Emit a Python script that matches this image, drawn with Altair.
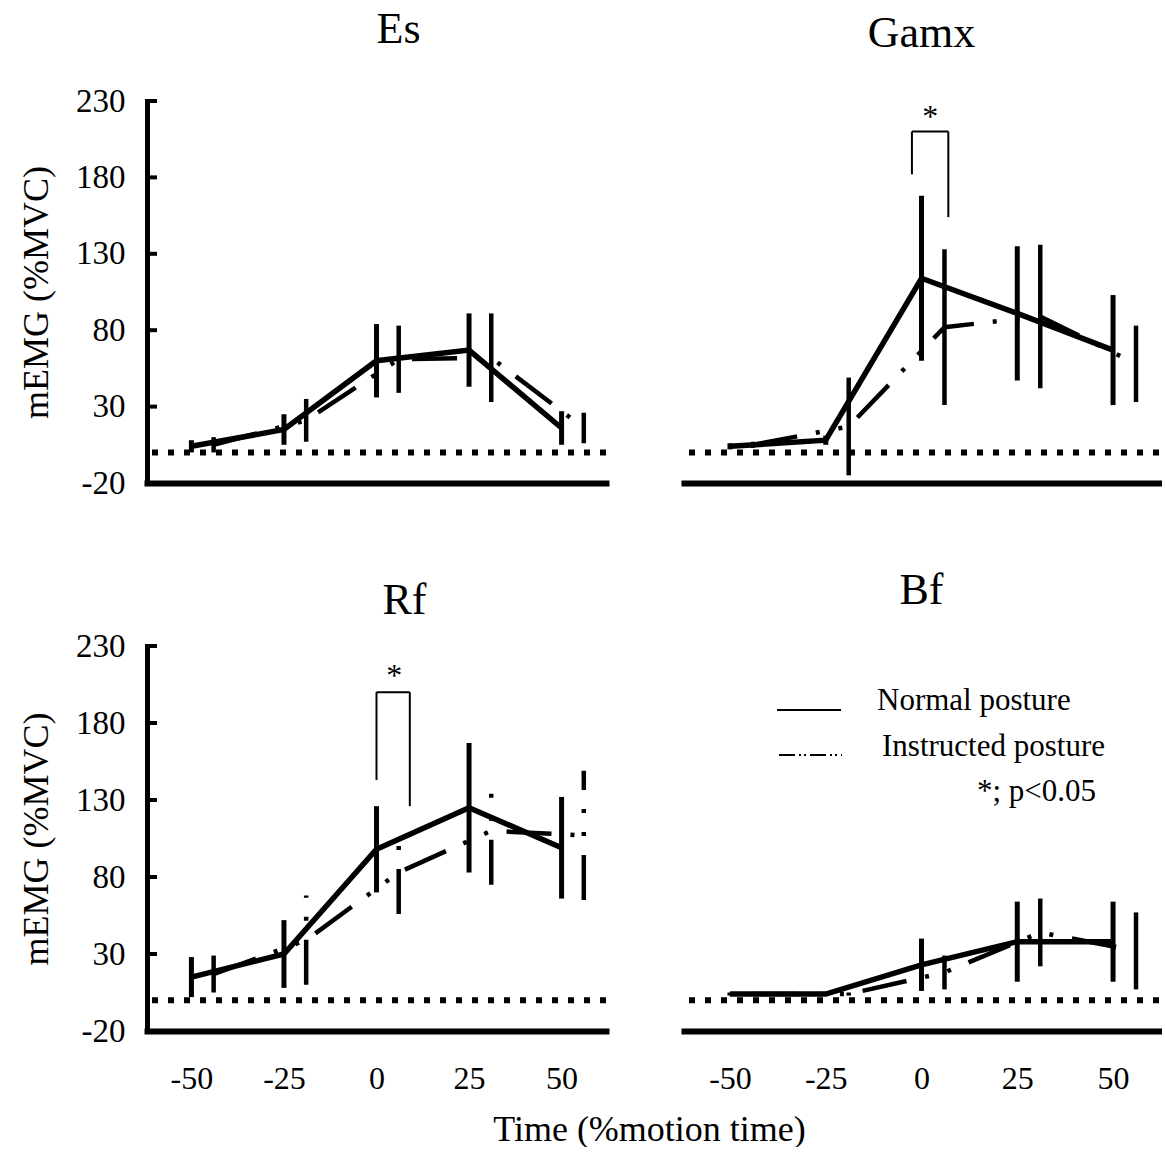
import altair as alt
import pandas as pd

FONT = "Liberation Serif"

# ---------------- data ----------------
x_normal = [-50, -25, 0, 25, 50]
x_instructed = [-44, -19, 6, 31, 56]

es_normal = [4, 15, 60, 67, 16]
es_normal_sd = [4, 10, 24, 24, 11]
es_instr = [5, 21, 61, 62, 16]
es_instr_sd = [5, 14, 22, 29, 10]

gamx_normal = [4, 8, 114, 91, 67]
gamx_normal_sd = [2, 3, 54, 44, 36]
gamx_instr = [5, 17, 82, 89, 58]
gamx_instr_sd = [2, 32, 51, 47, 25]

rf_normal = [15, 30, 98, 125, 99]
rf_normal_sd = [13, 22, 28, 42, 33]
rf_instr = [17, 39, 83, 110, 107]
rf_instr_sd = [12, 29, 27, 35, 42]

bf_normal = [4, 4, 23, 38, 38]
bf_normal_sd = [1, 1, 17, 26, 26]
bf_instr = [4, 4, 18, 44, 32]
bf_instr_sd = [1, 1, 11, 22, 25]

y_ticks = [-20, 30, 80, 130, 180, 230]
y_inner_ticks = [30, 80, 130, 180, 230]
x_ticks = [-50, -25, 0, 25, 50]

# significance brackets: [x_left, x_right, y_top, y_left_bottom, y_right_bottom]
gamx_bracket = [-2.5, 7, 210, 182, 154]
gamx_star = [2.3, 213]
rf_bracket = [0, 9, 200, 143, 126]
rf_star = [4.8, 204]

legend_labels = ["Normal posture", "Instructed posture"]
sig_note = "*; p<0.05"
x_title = "Time (%motion time)"
y_title = "mEMG (%MVC)"

X_DOMAIN = [-62, 62]
Y_DOMAIN = [-20, 230]
INSTR_DASH = [45, 19, 4, 19, 4, 19]


def panel(name, normal, normal_sd, instr, instr_sd, width, height,
          left, bottom, title_offset, instr_bar_dashed, title_dx=0,
          bracket=None, star=None, legend=False, x_axis_title=False):
    df_n = pd.DataFrame({
        "x": x_normal, "y": normal,
        "lo": [m - s for m, s in zip(normal, normal_sd)],
        "hi": [m + s for m, s in zip(normal, normal_sd)],
    })
    df_i = pd.DataFrame({
        "x": x_instructed, "y": instr,
        "lo": [m - s for m, s in zip(instr, instr_sd)],
        "hi": [m + s for m, s in zip(instr, instr_sd)],
    })
    xscale = alt.Scale(domain=X_DOMAIN, nice=False, zero=False)
    yscale = alt.Scale(domain=Y_DOMAIN, nice=False, zero=False)
    xaxis_kw = dict(values=x_ticks, labels=bottom, ticks=False, tickSize=0,
                    domain=True, domainWidth=6, domainColor="black",
                    domainCap="square", grid=False,
                    labelFont=FONT, labelFontSize=32, labelPadding=32,
                    labelColor="black", labelFlush=False, labelOverlap=False,
                    labelExpr="'' + datum.value")
    if x_axis_title:
        xaxis_kw.update(title=x_title, titleFont=FONT, titleFontSize=36,
                        titleFontWeight="normal", titleColor="black",
                        titlePadding=18, titleX=502)
    else:
        xaxis_kw.update(title=None)
    xaxis = alt.Axis(**xaxis_kw)
    if left:
        yaxis = alt.Axis(values=y_ticks, ticks=False, tickSize=0,
                         domain=True, domainWidth=5, domainColor="black",
                         domainCap="square", grid=False, title=y_title,
                         titleFont=FONT, titleFontSize=36, titleFontWeight="normal",
                         titleColor="black", titlePadding=20,
                         labelFont=FONT, labelFontSize=33, labelPadding=22,
                         labelColor="black", labelFlush=False, labelOverlap=False,
                         labelExpr="'' + datum.value")
    else:
        yaxis = alt.Axis(labels=False, ticks=False, tickSize=0, domain=False,
                         grid=False, title=None)

    def X(f="x"):
        return alt.X(f"{f}:Q", scale=xscale, axis=xaxis)

    def Y(f="y"):
        return alt.Y(f"{f}:Q", scale=yscale, axis=yaxis)

    zero = alt.Chart(pd.DataFrame({"y": [0]})).mark_rule(
        color="black", strokeWidth=6, strokeDash=[6, 10]
    ).encode(y=Y())

    bars_n = alt.Chart(df_n).mark_rule(color="black", strokeWidth=5).encode(
        x=X(), y=Y("lo"), y2="hi:Q")
    bars_i_kwargs = dict(color="black", strokeWidth=4.5)
    if instr_bar_dashed:
        bars_i_kwargs["strokeDash"] = INSTR_DASH
    bars_i = alt.Chart(df_i).mark_rule(**bars_i_kwargs).encode(
        x=X(), y=Y("lo"), y2="hi:Q")

    line_n = alt.Chart(df_n).mark_line(color="black", strokeWidth=5.5).encode(
        x=X(), y=Y())
    line_i = alt.Chart(df_i).mark_line(color="black", strokeWidth=4.5,
                                       strokeDash=INSTR_DASH).encode(x=X(), y=Y())

    layers = [zero, bars_n, bars_i, line_n, line_i]

    if left:
        ticks = alt.Chart(pd.DataFrame({"y": y_inner_ticks})).mark_rule(
            color="black", strokeWidth=4
        ).encode(x=alt.value(0), x2=alt.value(10), y=Y())
        layers.append(ticks)

    if bracket is not None:
        xl, xr, top, lb, rb = bracket
        b_top = alt.Chart(pd.DataFrame({"x": [xl], "x2": [xr], "y": [top]})).mark_rule(
            color="black", strokeWidth=2).encode(x=X(), x2="x2:Q", y=Y())
        b_legs = alt.Chart(pd.DataFrame({"x": [xl, xr], "y": [top, top], "y2": [lb, rb]})).mark_rule(
            color="black", strokeWidth=2).encode(x=X(), y=Y(), y2="y2:Q")
        layers += [b_top, b_legs]
    if star is not None:
        s = alt.Chart(pd.DataFrame({"x": [star[0]], "y": [star[1]]})).mark_text(
            text="*", font=FONT, fontSize=32, color="black", align="center",
            baseline="alphabetic").encode(x=X(), y=Y())
        layers.append(s)

    if legend:
        one = pd.DataFrame({"k": [0]})
        l1 = alt.Chart(one).mark_rule(color="black", strokeWidth=2).encode(
            x=alt.value(93), x2=alt.value(157), y=alt.value(64))
        l2 = alt.Chart(one).mark_rule(color="black", strokeWidth=2,
                                      strokeDash=[16, 4, 2, 3, 2, 4]).encode(
            x=alt.value(95), x2=alt.value(158), y=alt.value(109))
        t1 = alt.Chart(one).mark_text(text=legend_labels[0], font=FONT, fontSize=31,
                                      color="black", align="left", baseline="alphabetic").encode(
            x=alt.value(193), y=alt.value(64))
        t2 = alt.Chart(one).mark_text(text=legend_labels[1], font=FONT, fontSize=31,
                                      color="black", align="left", baseline="alphabetic").encode(
            x=alt.value(198), y=alt.value(110))
        t3 = alt.Chart(one).mark_text(text=sig_note, font=FONT, fontSize=31,
                                      color="black", align="left", baseline="alphabetic").encode(
            x=alt.value(293), y=alt.value(155))
        layers += [l1, l2, t1, t2, t3]

    return alt.layer(*layers).properties(
        width=width, height=height,
        title=alt.TitleParams(name, font=FONT, fontSize=44, fontWeight="normal",
                              color="black", anchor="middle", offset=title_offset,
                              dx=title_dx),
    )


es = panel("Es", es_normal, es_normal_sd, es_instr, es_instr_sd, 459, 382,
           left=True, bottom=False, title_offset=33, instr_bar_dashed=False,
           title_dx=22)
gamx = panel("Gamx", gamx_normal, gamx_normal_sd, gamx_instr, gamx_instr_sd, 475, 382,
             left=False, bottom=False, title_offset=45, instr_bar_dashed=False,
             bracket=gamx_bracket, star=gamx_star)
rf = panel("Rf", rf_normal, rf_normal_sd, rf_instr, rf_instr_sd, 459, 385,
           left=True, bottom=True, title_offset=7, instr_bar_dashed=True,
           title_dx=28, bracket=rf_bracket, star=rf_star, x_axis_title=True)
bf = panel("Bf", bf_normal, bf_normal_sd, bf_instr, bf_instr_sd, 475, 385,
           left=False, bottom=True, title_offset=33, instr_bar_dashed=False,
           legend=True)

chart = alt.concat(
    es, gamx, rf, bf, columns=2,
    spacing={"row": 163, "column": 78}, bounds="flush", align="each",
).configure_view(stroke=None).properties(
    padding={"left": 18, "top": 8, "right": 0, "bottom": 0},
    background="white",
)

chart.save("out.html", embed_options={"renderer": "svg", "actions": False})
